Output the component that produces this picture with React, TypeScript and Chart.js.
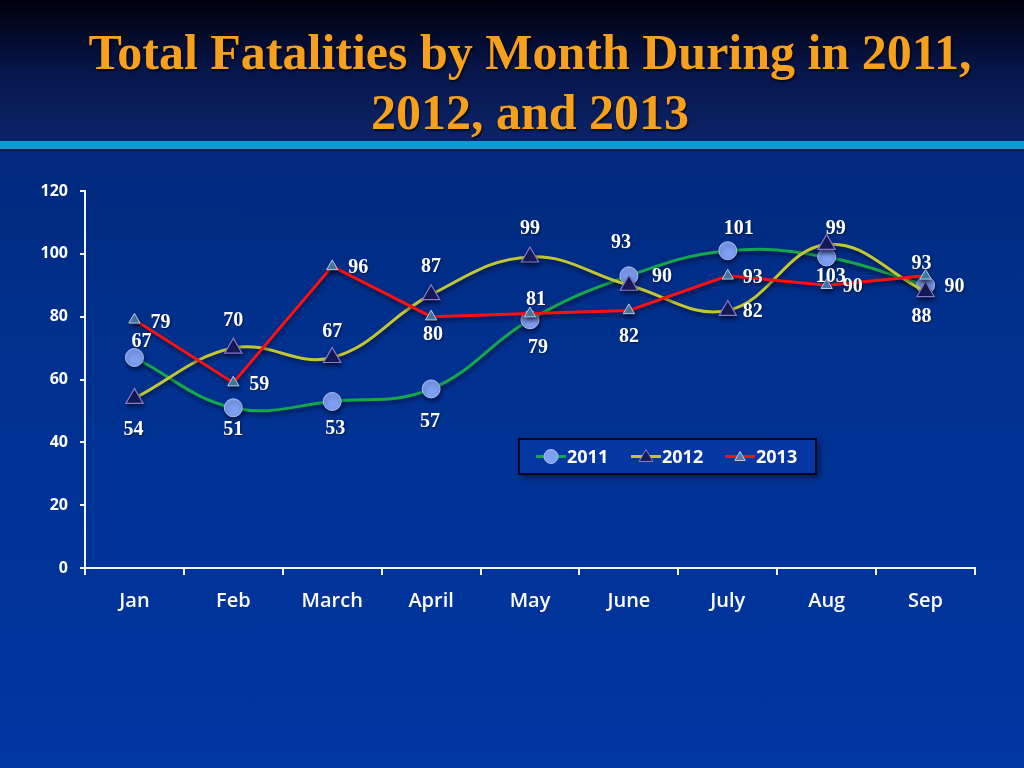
import React, { useEffect, useLayoutEffect, useRef } from 'react';
import { Chart, registerables } from 'chart.js';

Chart.register(...registerables);

const months = ['Jan', 'Feb', 'March', 'April', 'May', 'June', 'July', 'Aug', 'Sep'];
const fatal2011 = [67, 51, 53, 57, 79, 93, 101, 99, 90];
const fatal2012 = [54, 70, 67, 87, 99, 90, 82, 103, 88];
const fatal2013 = [79, 59, 96, 80, 81, 82, 93, 90, 93];
const yTicks = [0, 20, 40, 60, 80, 100, 120];
const seriesNames = ['2011', '2012', '2013'];

// data-label placement relative to each point (dx, dy in px)
const labelOffsets2011 = [[7, -18], [0, 20], [3, 26], [-1, 31], [8, 26], [-8, -35], [11, -24], [9, -30], [29, 0]];
const labelOffsets2012 = [[-1, 30], [0, -29], [0, -28], [0, -30], [0, -30], [33, -10], [25, 0], [4, 31], [-4, 23]];
const labelOffsets2013 = [[26, 1], [26, 0], [26, 0], [2, 16], [6, -16], [0, 25], [25, 0], [26, 0], [-4, -14]];
const labelOffsets = [labelOffsets2011, labelOffsets2012, labelOffsets2013];

const GREEN = '#13a84a';
const OLIVE = '#c2c632';
const RED = '#ff1010';

const shadowPlugin = {
  id: 'lineShadow',
  beforeDatasetDraw(chart: any) {
    const ctx = chart.ctx;
    ctx.save();
    ctx.shadowColor = 'rgba(0,0,20,0.55)';
    ctx.shadowBlur = 4;
    ctx.shadowOffsetX = 1;
    ctx.shadowOffsetY = 3;
  },
  afterDatasetDraw(chart: any) {
    chart.ctx.restore();
  },
};

const labelPlugin = {
  id: 'dataLabels',
  afterDatasetsDraw(chart: any) {
    const ctx = chart.ctx;
    ctx.save();
    ctx.font = 'bold 20px "Liberation Serif", "Times New Roman", serif';
    ctx.fillStyle = '#ffffff';
    ctx.textAlign = 'center';
    ctx.textBaseline = 'alphabetic';
    ctx.shadowColor = 'rgba(0,0,0,0.5)';
    ctx.shadowBlur = 2;
    ctx.shadowOffsetX = 1;
    ctx.shadowOffsetY = 1;
    chart.data.datasets.forEach((ds: any, i: number) => {
      const meta = chart.getDatasetMeta(i);
      meta.data.forEach((pt: any, j: number) => {
        const off = labelOffsets[i][j];
        ctx.fillText(String(ds.data[j]), pt.x + off[0], pt.y + off[1] + 7);
      });
    });
    ctx.restore();
  },
};

function drawMarker(ctx: CanvasRenderingContext2D, style: string, x: number, y: number, r: number, fill: string, stroke: string) {
  ctx.beginPath();
  if (style === 'circle') {
    ctx.arc(x, y, r, 0, Math.PI * 2);
  } else {
    let rad = 0;
    ctx.moveTo(x + Math.sin(rad) * r, y - Math.cos(rad) * r);
    rad += (2 * Math.PI) / 3;
    ctx.lineTo(x + Math.sin(rad) * r, y - Math.cos(rad) * r);
    rad += (2 * Math.PI) / 3;
    ctx.lineTo(x + Math.sin(rad) * r, y - Math.cos(rad) * r);
    ctx.closePath();
  }
  ctx.fillStyle = fill;
  ctx.fill();
  ctx.lineWidth = 1;
  ctx.strokeStyle = stroke;
  ctx.stroke();
}

const legendPlugin = {
  id: 'boxLegend',
  afterDraw(chart: any) {
    const ctx = chart.ctx;
    const bx = 519, by = 439, bw = 297, bh = 35;
    ctx.save();
    ctx.shadowColor = 'rgba(0,0,0,0.6)';
    ctx.shadowBlur = 6;
    ctx.shadowOffsetX = 3;
    ctx.shadowOffsetY = 3;
    ctx.fillStyle = '#0537a2';
    ctx.fillRect(bx, by, bw, bh);
    ctx.restore();
    ctx.save();
    ctx.strokeStyle = '#05081a';
    ctx.lineWidth = 2;
    ctx.strokeRect(bx, by, bw, bh);
    const cy = by + bh / 2;
    const items = [
      { x: 536, color: GREEN, style: 'circle', r: 7, fill: '#7e9ff2', stroke: '#a9bdf7' },
      { x: 631, color: OLIVE, style: 'triangle', r: 8, fill: '#161c5c', stroke: '#8a78cc' },
      { x: 725, color: RED, style: 'triangle', r: 6, fill: '#4f7fa8', stroke: '#b0cce8' },
    ];
    items.forEach((it, i) => {
      ctx.strokeStyle = it.color;
      ctx.lineWidth = 3;
      ctx.beginPath();
      ctx.moveTo(it.x, cy);
      ctx.lineTo(it.x + 30, cy);
      ctx.stroke();
      drawMarker(ctx, it.style, it.x + 15, cy + (it.style === 'triangle' ? 1 : 0), it.r, it.fill, it.stroke);
      ctx.fillStyle = '#ffffff';
      ctx.font = 'bold 18px "Open Sans", sans-serif';
      ctx.textAlign = 'left';
      ctx.textBaseline = 'middle';
      ctx.fillText(seriesNames[i], it.x + 31, cy + 1);
    });
    ctx.restore();
  },
};

export default function App() {
  const canvasRef = useRef<HTMLCanvasElement>(null);
  const titleRef = useRef<HTMLDivElement>(null);

  useLayoutEffect(() => {
    const el = titleRef.current;
    if (!el) return;
    const span = el.querySelector('span') as HTMLSpanElement;
    if (span) {
      const w = span.getBoundingClientRect().width;
      const s = Math.min(1, 890 / w);
      el.style.transform = `scaleX(${s})`;
    }
  }, []);

  useEffect(() => {
    if (!canvasRef.current) return;
    const chart = new Chart(canvasRef.current, {
      type: 'line',
      data: {
        labels: months,
        datasets: [
          {
            label: seriesNames[0],
            data: fatal2011,
            borderColor: GREEN,
            borderWidth: 3,
            tension: 0.4,
            pointStyle: 'circle',
            pointRadius: 9,
            pointBackgroundColor: '#7e9ff2',
            pointBorderColor: '#a9bdf7',
            pointBorderWidth: 1,
            order: 3,
          },
          {
            label: seriesNames[1],
            data: fatal2012,
            borderColor: OLIVE,
            borderWidth: 3,
            tension: 0.4,
            pointStyle: 'triangle',
            pointRadius: 10,
            pointBackgroundColor: '#161c5c',
            pointBorderColor: '#8a78cc',
            pointBorderWidth: 1.2,
            order: 2,
          },
          {
            label: seriesNames[2],
            data: fatal2013,
            borderColor: RED,
            borderWidth: 3,
            tension: 0,
            pointStyle: 'triangle',
            pointRadius: 6.5,
            pointBackgroundColor: '#4f7fa8',
            pointBorderColor: '#b0cce8',
            pointBorderWidth: 1,
            order: 1,
          },
        ],
      },
      options: {
        responsive: false,
        animation: false,
        layout: { padding: { top: 191, right: 49, bottom: 0, left: 0 } },
        plugins: {
          legend: { display: false },
          tooltip: { enabled: false },
          title: { display: false },
        },
        scales: {
          x: {
            offset: true,
            grid: {
              display: true,
              offset: true,
              drawOnChartArea: false,
              drawTicks: true,
              tickLength: 7,
              color: '#f2f4fa',
              lineWidth: 2,
            },
            border: { display: true, color: '#f2f4fa', width: 2 },
            ticks: {
              color: '#ffffff',
              padding: 14,
              font: { family: '"Open Sans", sans-serif', size: 20, weight: '600' },
            },
            afterFit: (scale: any) => {
              scale.height = 200;
            },
          },
          y: {
            min: 0,
            max: 120,
            grid: {
              display: true,
              drawOnChartArea: false,
              drawTicks: true,
              tickLength: 5,
              color: '#f2f4fa',
              lineWidth: 2,
            },
            border: { display: true, color: '#f2f4fa', width: 2 },
            ticks: {
              color: '#ffffff',
              padding: 12,
              font: { family: '"Open Sans", sans-serif', size: 16, weight: 'bold' },
            },
            afterBuildTicks: (scale: any) => {
              scale.ticks = yTicks.map((v) => ({ value: v }));
            },
            afterFit: (scale: any) => {
              scale.width = 85;
            },
          },
        },
      },
      plugins: [shadowPlugin, labelPlugin, legendPlugin],
    } as any);
    return () => chart.destroy();
  }, []);

  return (
    <div
      style={{
        position: 'fixed',
        left: 0,
        top: 0,
        width: 1024,
        height: 768,
        overflow: 'hidden',
        background: 'linear-gradient(to bottom, #00287c 150px, #00318f 350px, #0036a2 768px)',
      }}
    >
      <div
        style={{
          position: 'absolute',
          left: 0,
          top: 0,
          width: 1024,
          height: 141,
          background: 'linear-gradient(to bottom, #00000a 0px, #06154a 70px, #0b2468 141px)',
        }}
      />
      <div style={{ position: 'absolute', left: 0, top: 141, width: 1024, height: 8, background: '#1299d2' }} />
      <div style={{ position: 'absolute', left: 0, top: 149, width: 1024, height: 2, background: '#0a1c50' }} />
      <div
        ref={titleRef}
        style={{
          position: 'absolute',
          left: 30,
          top: 22,
          width: 1000,
          textAlign: 'center',
          fontFamily: '"Liberation Serif", "Times New Roman", serif',
          fontWeight: 'bold',
          fontSize: 50,
          lineHeight: '60px',
          color: '#f7a01c',
          textShadow: '1px 2px 2px rgba(0,0,0,0.7)',
          transformOrigin: '500px 0px',
          whiteSpace: 'nowrap',
        }}
      >
        <span style={{ display: 'inline-block' }}>Total Fatalities by Month During in 2011,</span>
        <br />
        <span style={{ display: 'inline-block' }}>2012, and 2013</span>
      </div>
      <canvas
        ref={canvasRef}
        width={1024}
        height={768}
        style={{ position: 'absolute', left: 0, top: 0, width: 1024, height: 768 }}
      />
    </div>
  );
}
